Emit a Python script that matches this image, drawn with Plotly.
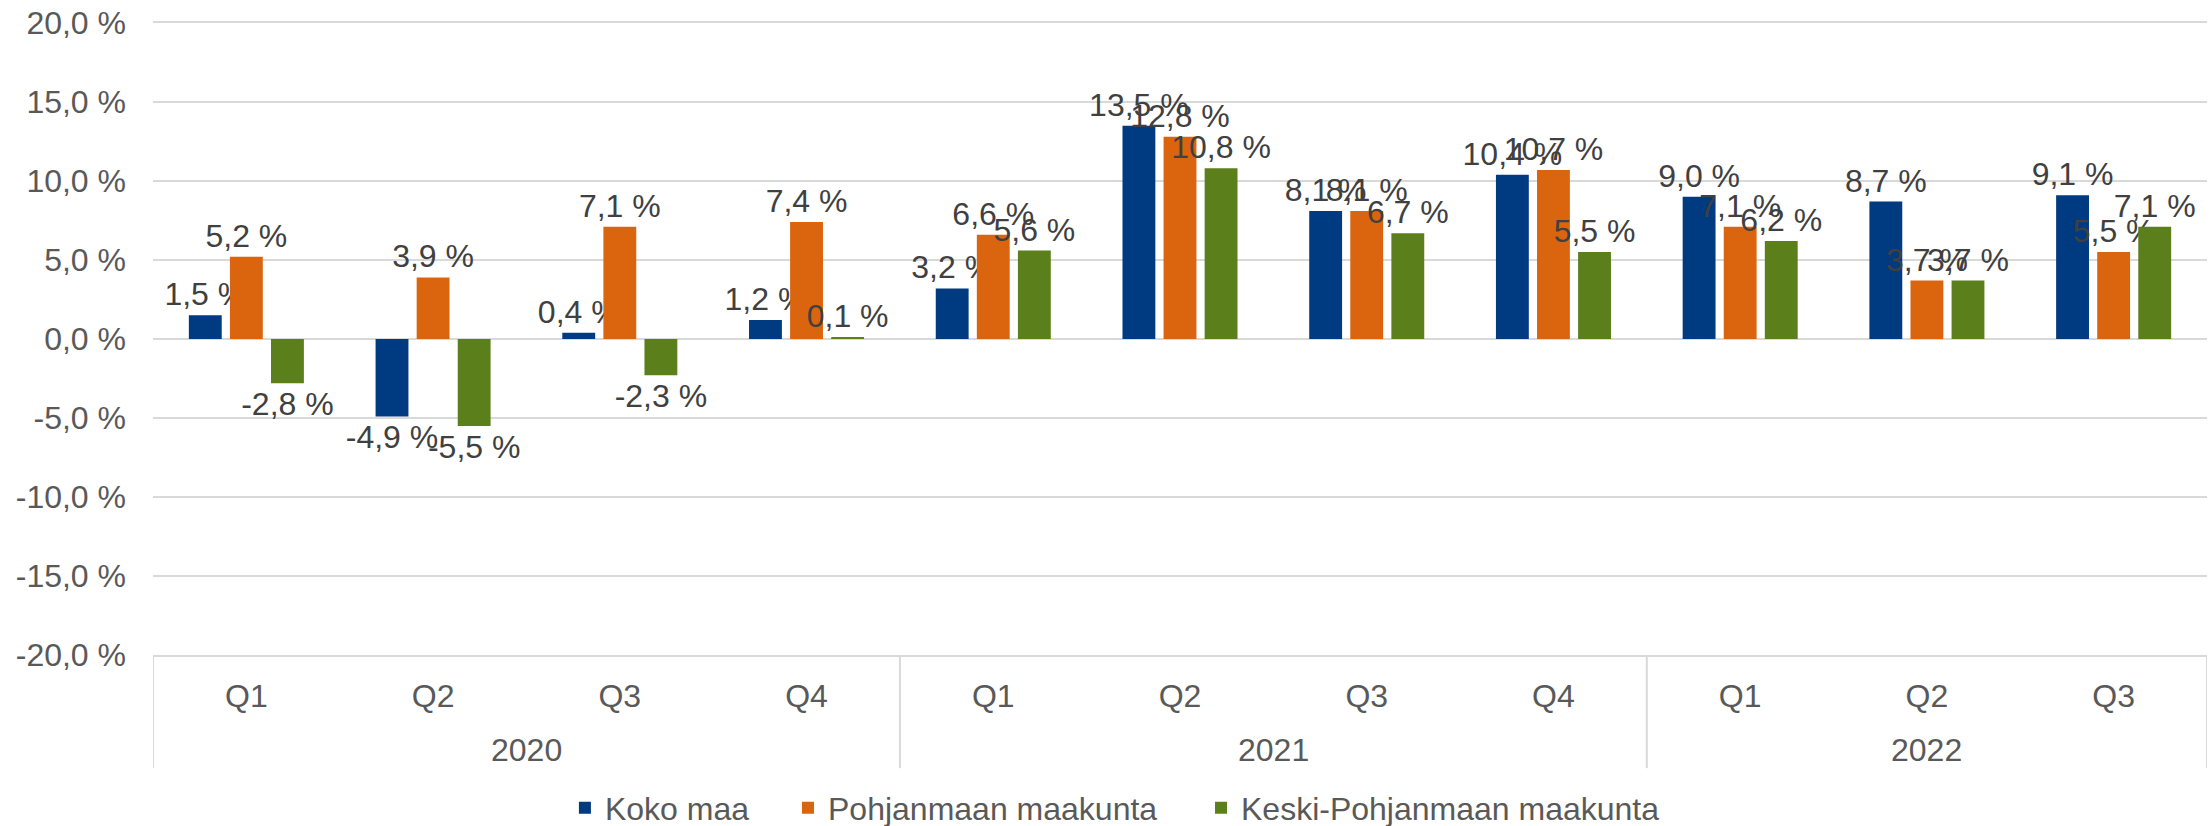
import plotly.graph_objects as go

years = ["2020"] * 4 + ["2021"] * 4 + ["2022"] * 3
quarters = ["Q1", "Q2", "Q3", "Q4", "Q1", "Q2", "Q3", "Q4", "Q1", "Q2", "Q3"]

series_names = ["Koko maa", "Pohjanmaan maakunta", "Keski-Pohjanmaan maakunta"]
koko_maa = [1.5, -4.9, 0.4, 1.2, 3.2, 13.5, 8.1, 10.4, 9.0, 8.7, 9.1]
pohjanmaa = [5.2, 3.9, 7.1, 7.4, 6.6, 12.8, 8.1, 10.7, 7.1, 3.7, 5.5]
keski_pohjanmaa = [-2.8, -5.5, -2.3, 0.1, 5.6, 10.8, 6.7, 5.5, 6.2, 3.7, 7.1]

y_ticks = [-20, -15, -10, -5, 0, 5, 10, 15, 20]

colors = ["#003A80", "#DB650E", "#5B7F1A"]
FONT = "Liberation Sans, Arial, sans-serif"
FS = 32


def fmt(v):
    return f"{v:.1f}".replace(".", ",") + " %"


cats = [f"{y} {q}" for y, q in zip(years, quarters)]

fig = go.Figure()
for i, (name, vals) in enumerate(zip(series_names, [koko_maa, pohjanmaa, keski_pohjanmaa])):
    fig.add_trace(
        go.Bar(
            x=cats,
            y=vals,
            name=name,
            marker=dict(color=colors[i], line=dict(width=0)),
            text=[fmt(v) for v in vals],
            textposition="outside",
            textangle=0,
            constraintext="none",
            cliponaxis=False,
            textfont=dict(family=FONT, size=FS, color="#404040"),
            legend="legend" if i == 0 else f"legend{i + 1}",
        )
    )

# year group labels and dividers
unique_years = []
for y in years:
    if y not in unique_years:
        unique_years.append(y)

annotations = []
shapes = []
bounds = [-0.5]
for y in unique_years:
    idx = [k for k, yy in enumerate(years) if yy == y]
    center = (idx[0] + idx[-1]) / 2
    annotations.append(
        dict(
            x=center, y=-0.150, xref="x", yref="paper",
            text=y, showarrow=False, xanchor="center", yanchor="middle",
            font=dict(family=FONT, size=FS, color="#595959"),
        )
    )
    bounds.append(idx[-1] + 0.5)
for b in bounds:
    shapes.append(
        dict(type="line", xref="x", yref="paper", x0=b, x1=b, y0=0, y1=-0.179,
             line=dict(color="#D9D9D9", width=2))
    )

legend_common = dict(
    orientation="h",
    xref="container",
    yref="container",
    y=0.0218,
    xanchor="left",
    yanchor="middle",
    font=dict(family=FONT, size=FS, color="#595959"),
    bgcolor="rgba(0,0,0,0)",
    itemwidth=30,
)

fig.update_layout(
    width=2211,
    height=826,
    margin=dict(l=153, r=4, t=23, b=171, autoexpand=False),
    paper_bgcolor="white",
    plot_bgcolor="white",
    barmode="group",
    bargap=0.34,
    bargroupgap=0.2,
    font=dict(family=FONT, size=FS, color="#595959"),
    legend=dict(legend_common, x=0.2555),
    legend2=dict(legend_common, x=0.3564),
    legend3=dict(legend_common, x=0.5432),
    showlegend=True,
    annotations=annotations,
    shapes=shapes,
)

fig.update_yaxes(
    range=[-20, 20],
    tickvals=y_ticks,
    ticktext=[fmt(v) for v in y_ticks],
    showgrid=True,
    gridcolor="#D9D9D9",
    gridwidth=2,
    zeroline=False,
    showline=False,
    ticks="",
    automargin=False,
    ticklabelstandoff=26,
    ticklabeloverflow="allow",
    tickfont=dict(family=FONT, size=FS, color="#595959"),
)

fig.update_xaxes(
    type="category",
    range=[-0.5, len(cats) - 0.5],
    tickvals=cats,
    ticktext=quarters,
    showgrid=False,
    showline=True,
    mirror=True,
    linecolor="#D9D9D9",
    linewidth=2,
    ticks="",
    automargin=False,
    ticklabelstandoff=12,
    tickfont=dict(family=FONT, size=FS, color="#595959"),
)

fig.write_html(
    "out.html",
    config={"displayModeBar": False},
    post_script="document.body.style.margin='0';document.body.style.overflow='hidden';",
)
